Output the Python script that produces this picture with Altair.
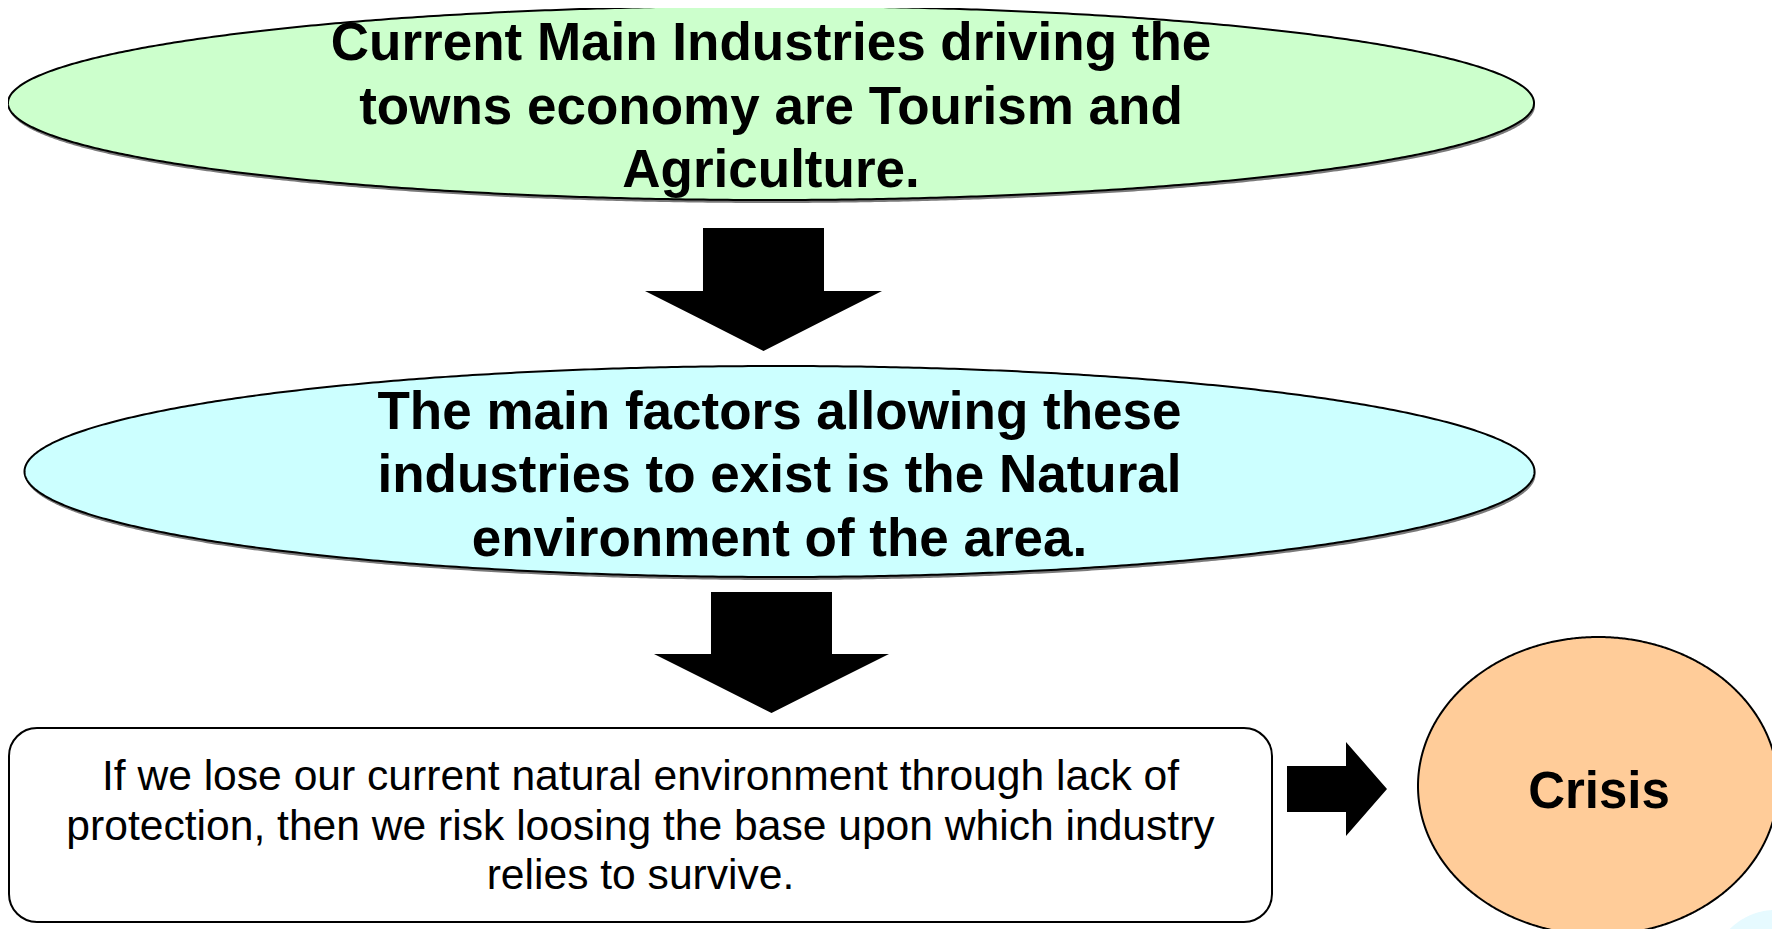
import numpy as np
import pandas as pd
import altair as alt

# ---- content ----
top_lines = ["Current Main Industries driving the", "towns economy are Tourism and", "Agriculture."]
mid_lines = ["The main factors allowing these", "industries to exist is the Natural", "environment of the area."]
box_lines = ["If we lose our current natural environment through lack of",
             "protection, then we risk loosing the base upon which industry",
             "relies to survive."]
end_lines = ["Crisis"]

# ---- layout (pixel frame of the 1780x937 page) ----
FONT = "Liberation Sans"
ELLIPSES = {  # name: (cx, cy, rx, ry, fill, shadow)
    "top": (771, 103, 763, 97, "#CCFFCC", True),
    "mid": (779.5, 471.5, 755, 105.5, "#CCFFFF", True),
    "end": (1598, 786, 180, 149, "#FFCC99", False),
}
TEXTS = [  # lines, cx, first baseline, spacing, size, weight
    (top_lines, 771, 60, 63.5, 53, "bold"),
    (mid_lines, 779.5, 428.5, 63.5, 53, "bold"),
    (box_lines, 640.5, 790, 49.5, 42.6, "normal"),
    (end_lines, 1599, 808, 0, 51, "bold"),
]
BOX = (9, 728, 1272, 922)
DOWN_ARROWS = [  # cx, shaft half width, head half width, shaft top, head y, tip y
    (763.5, 60.5, 118.5, 228, 291, 351),
    (771.5, 60.5, 117.5, 592, 654, 713),
]
RIGHT_ARROW = (789, 23, 47, 1287, 1346, 1387)  # cy, shaft half h, head half h, shaft left, head x, tip x

XS = alt.Scale(domain=[8, 1772], nice=False, zero=False)
YS = alt.Scale(domain=[8, 929], nice=False, zero=False, reverse=True)
EPS = 0.01


def X(f):
    return alt.X(f, type="quantitative", scale=XS, axis=None)


def Y(f):
    return alt.Y(f, type="quantitative", scale=YS, axis=None)


def ellipse_layers(cx, cy, rx, ry, fill, stroke=True, sw=2.0):
    t = np.linspace(np.pi, 0, 500)
    area_df = pd.DataFrame({"x": cx + rx * np.cos(t), "y": cy - ry * np.sin(t),
                            "y2": cy + ry * np.sin(t)})
    out = [alt.Chart(area_df).mark_area(fill=fill, orient="vertical")
           .encode(x=X("x"), y=Y("y"), y2=alt.Y2("y2"))]
    if stroke:
        s = np.linspace(0, 2 * np.pi, 800)
        line_df = pd.DataFrame({"x": cx + rx * np.cos(s), "y": cy + ry * np.sin(s), "i": np.arange(len(s))})
        out.append(alt.Chart(line_df).mark_line(color="black", strokeWidth=sw)
                   .encode(x=X("x"), y=Y("y"), order=alt.Order("i:Q")))
    return out


layers = []

# faint decorative shape bottom-right
layers += ellipse_layers(1775, 990, 70, 80, "#E6FAFF", stroke=False)

for name, (cx, cy, rx, ry, fill, shadow) in ELLIPSES.items():
    if shadow:
        layers += ellipse_layers(cx + 1, cy + 3, rx, ry, "#7a7a7a", stroke=False)
    layers += ellipse_layers(cx, cy, rx, ry, fill)

# rounded box
bx0, by0, bx1, by1 = BOX
box_df = pd.DataFrame({"x": [bx0], "x2": [bx1], "y": [by0], "y2": [by1]})
layers.append(alt.Chart(box_df).mark_rect(fill="white", stroke="black", strokeWidth=2, cornerRadius=28)
              .encode(x=X("x"), x2=alt.X2("x2"), y=Y("y"), y2=alt.Y2("y2")))

# down arrows (x strictly increasing so the area path follows the outline)
for (cx, sh, hh, top, hy, tip) in DOWN_ARROWS:
    def b(x):
        return hy + (tip - hy) * (1 - abs(x - cx) / hh)
    pts = [(cx - hh, hy, hy), (cx - sh - EPS, hy, b(cx - sh)), (cx - sh, top, b(cx - sh)),
           (cx, top, tip), (cx + sh, top, b(cx + sh)), (cx + sh + EPS, hy, b(cx + sh)), (cx + hh, hy, hy)]
    df = pd.DataFrame(pts, columns=["x", "y", "y2"])
    layers.append(alt.Chart(df).mark_area(color="black", orient="vertical")
                  .encode(x=X("x"), y=Y("y"), y2=alt.Y2("y2")))

# right arrow (y strictly increasing)
cy, sh, hh, sl, hx, tx = RIGHT_ARROW
def r(y):
    return hx + (tx - hx) * (1 - abs(y - cy) / hh)
pts = [(cy - hh, hx, hx), (cy - sh - EPS, hx, r(cy - sh)), (cy - sh, sl, r(cy - sh)), (cy, sl, tx),
       (cy + sh, sl, r(cy + sh)), (cy + sh + EPS, hx, r(cy + sh)), (cy + hh, hx, hx)]
df = pd.DataFrame(pts, columns=["y", "x", "x2"])
layers.append(alt.Chart(df).mark_area(color="black", orient="horizontal")
              .encode(y=Y("y"), x=X("x"), x2=alt.X2("x2")))

# texts
for (lines, cx, base, step, size, weight) in TEXTS:
    tdf = pd.DataFrame({"t": lines, "x": [cx] * len(lines),
                        "y": [base + k * step for k in range(len(lines))]})
    layers.append(alt.Chart(tdf).mark_text(font=FONT, fontSize=size, fontWeight=weight, color="black",
                                           align="center", baseline="alphabetic")
                  .encode(x=X("x"), y=Y("y"), text="t:N"))

chart = alt.layer(*layers).properties(
    width=1764, height=921, padding=0,
    autosize=alt.AutoSizeParams(type="none"),
    background="white",
).configure_view(strokeWidth=0)

chart.save("out.html", embed_options={"renderer": "svg", "actions": False})
